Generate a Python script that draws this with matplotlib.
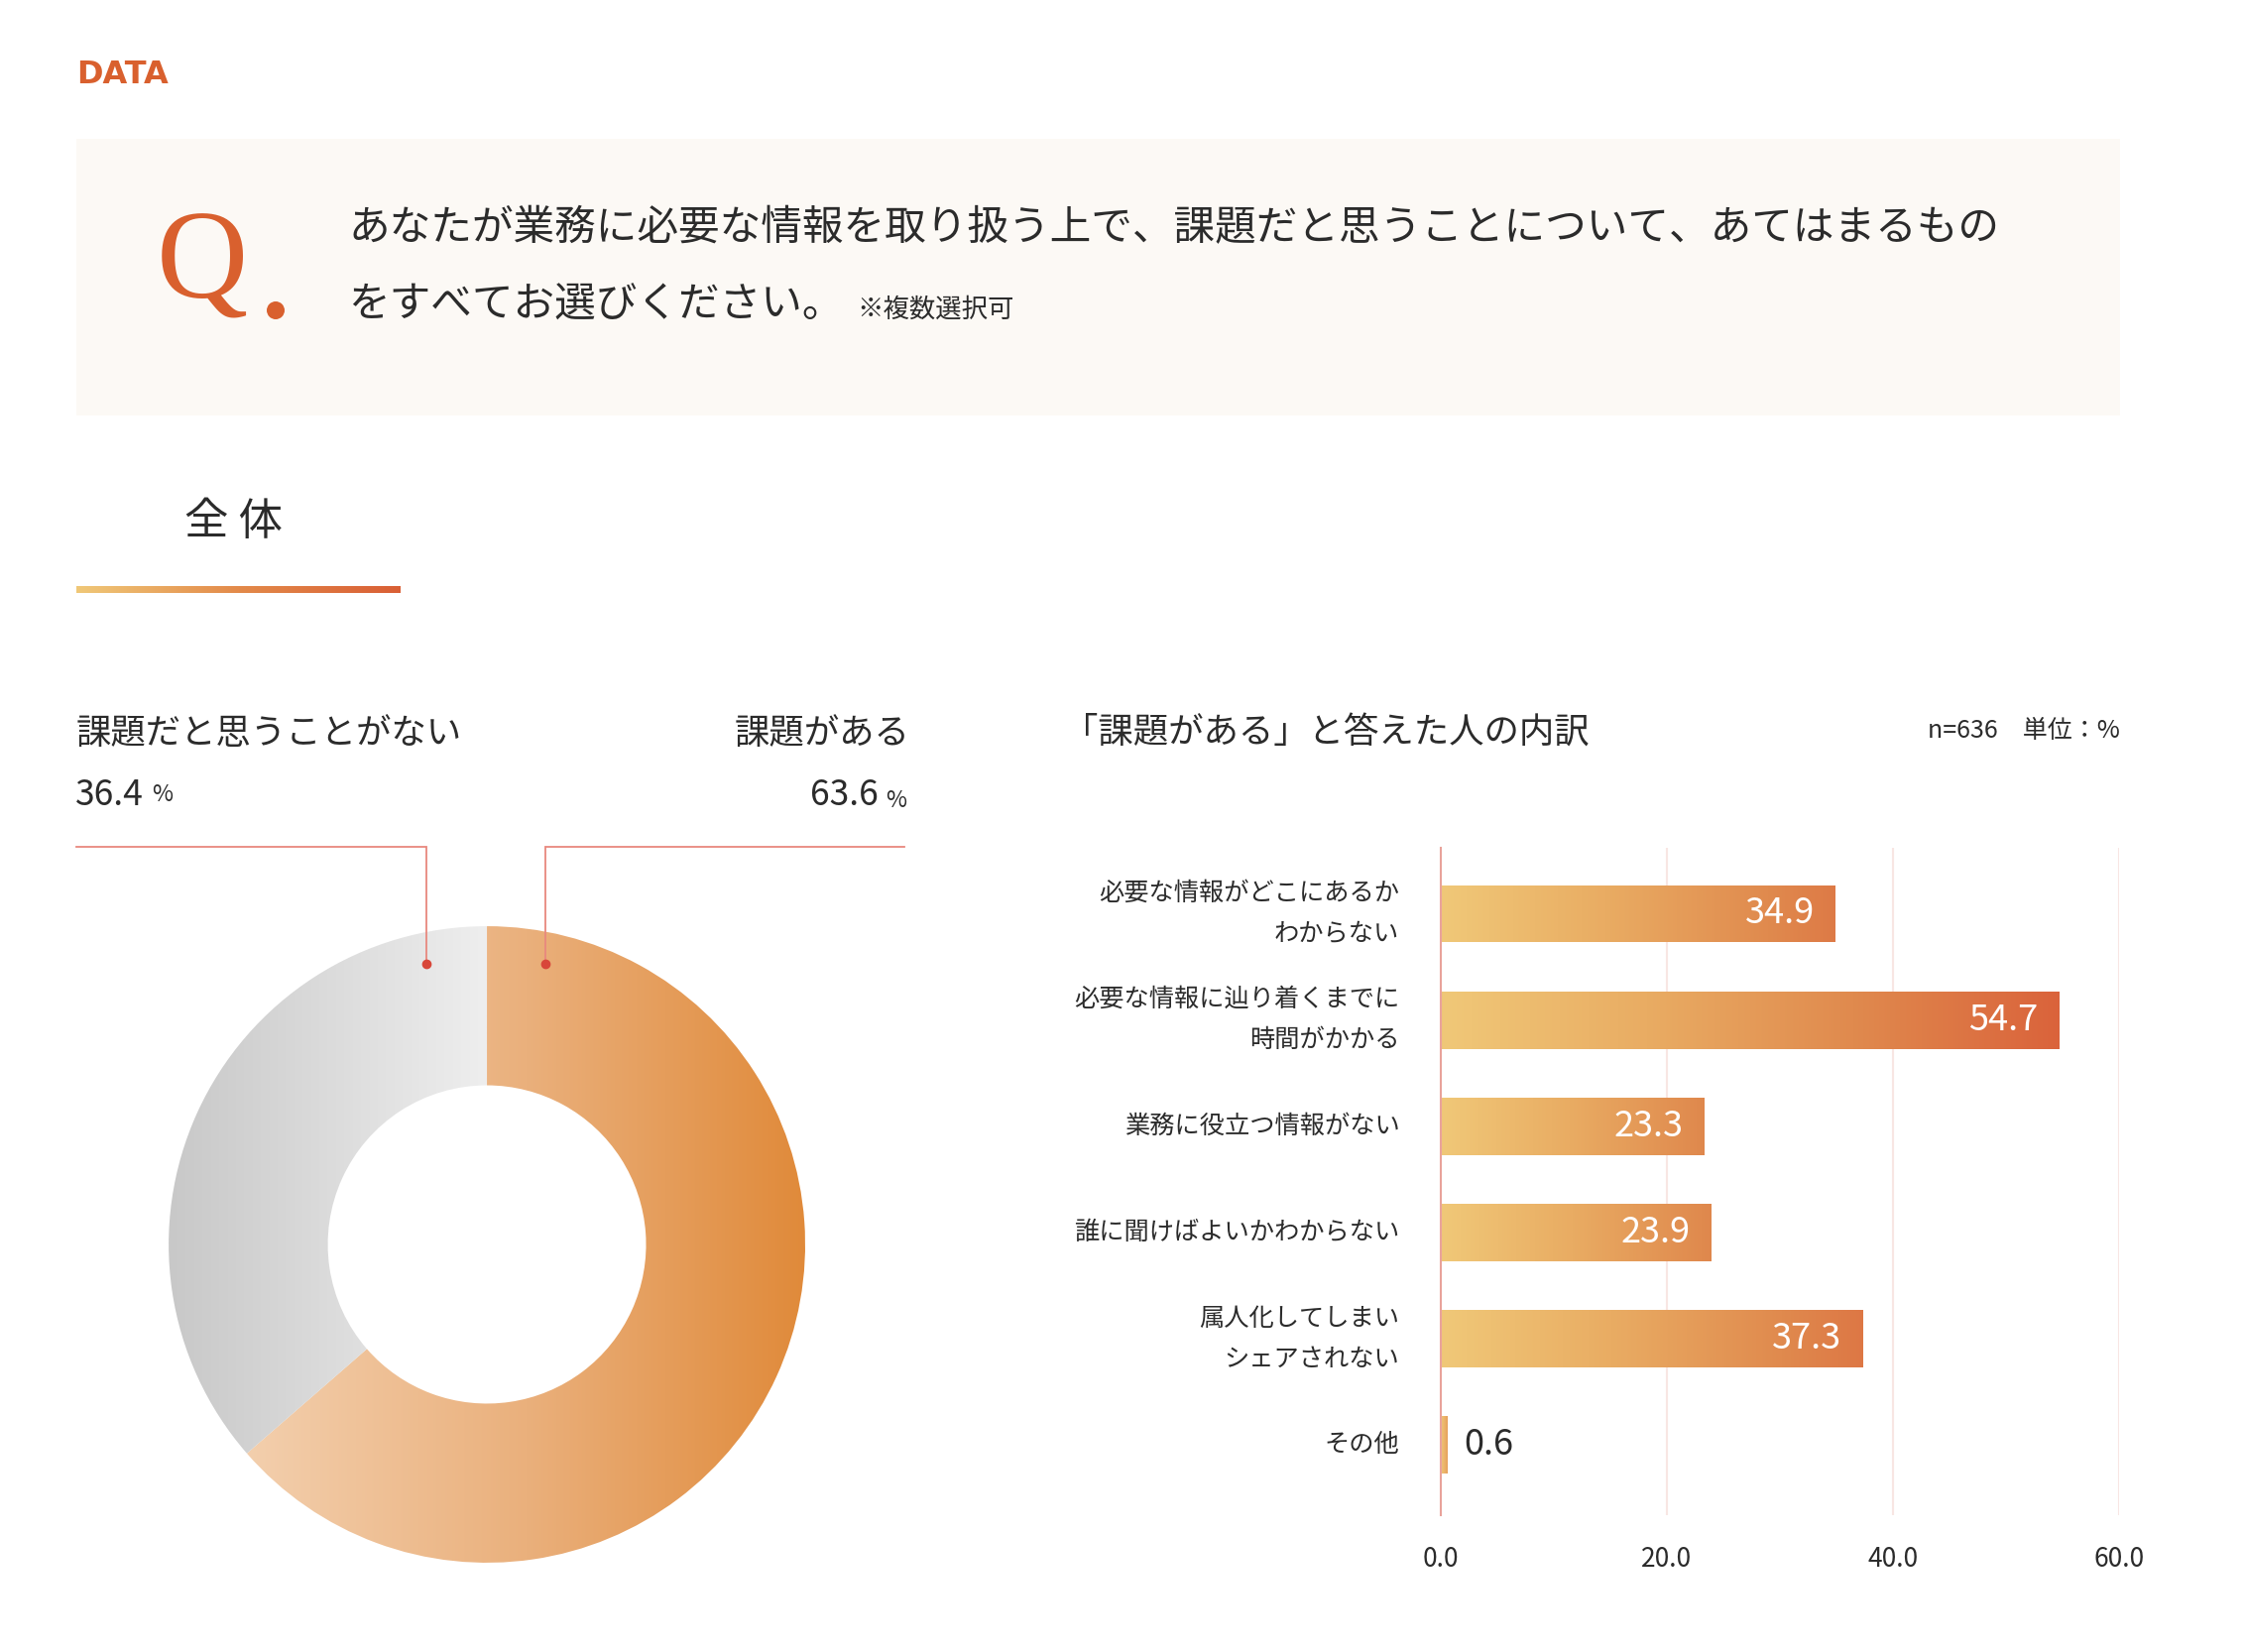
import numpy as np
import matplotlib
matplotlib.use('Agg')
import matplotlib.pyplot as plt
from matplotlib.colors import LinearSegmentedColormap
from matplotlib.patches import Rectangle, Circle

plt.rcParams['font.family'] = ['Noto Sans CJK JP', 'DejaVu Sans']

# ---------------- data ----------------
donut_labels = ['課題がある', '課題だと思うことがない']
donut_values = [63.6, 36.4]

categories = ['必要な情報がどこにあるか\nわからない',
              '必要な情報に辿り着くまでに\n時間がかかる',
              '業務に役立つ情報がない',
              '誰に聞けばよいかわからない',
              '属人化してしまい\nシェアされない',
              'その他']
values = [34.9, 54.7, 23.3, 23.9, 37.3, 0.6]
xticks = [0, 20, 40, 60]

question_line1 = 'あなたが業務に必要な情報を取り扱う上で、課題だと思うことについて、あてはまるもの'
question_line2 = 'をすべてお選びください。'
question_note = '※複数選択可'
section_title = '全 体'
bar_title = '「課題がある」と答えた人の内訳'
bar_note = 'n=636　単位：%'

# ---------------- style ----------------
W, H = 2265, 1666
TXT = '#2B2B2B'
ORANGE = '#D9602E'
LINE = '#E8887E'
DOT = '#D8473A'

fig = plt.figure(figsize=(W / 100, H / 100), dpi=100)
fig.patch.set_facecolor('white')

# overlay axes in pixel coordinates
ov = fig.add_axes([0, 0, 1, 1], zorder=5)
ov.set_xlim(0, W)
ov.set_ylim(H, 0)
ov.axis('off')
ov.patch.set_alpha(0)

ov.text(77, 75, 'DATA', color=ORANGE, fontsize=23, fontweight='bold',
        family=['DejaVu Sans'], va='center', ha='left')

ov.add_patch(Rectangle((77, 140), 2061, 279, facecolor='#FCF9F5', edgecolor='none', zorder=0))
ov.text(158, 270, 'Q', color=ORANGE, fontsize=92, family=['Liberation Serif'],
        va='center', ha='left')
ov.add_patch(Circle((278, 313), 9, facecolor=ORANGE, edgecolor='none'))

ov.text(351, 231, question_line1, color=TXT, fontsize=30, va='center', ha='left')
ov.text(351, 308, question_line2, color=TXT, fontsize=30, va='center', ha='left')
ov.text(864, 312, question_note, color=TXT, fontsize=19, va='center', ha='left')

ov.text(186, 526, section_title, color=TXT, fontsize=32, va='center', ha='left')
ul_cmap = LinearSegmentedColormap.from_list('ul', ['#F0C878', '#E38A4A', '#D95F35'])
ov.imshow(np.linspace(0, 1, 256).reshape(1, -1), cmap=ul_cmap, aspect='auto',
          extent=[77, 404, 598, 591], interpolation='bilinear')

# donut labels
ov.text(77, 740, donut_labels[1], color=TXT, fontsize=25.5, va='center', ha='left')
t1 = ov.text(76, 802, f'{donut_values[1]:.1f}', color=TXT, fontsize=25.5, va='center', ha='left')
ov.annotate('%', xy=(1, 0.2), xycoords=t1, xytext=(6, 0), textcoords='offset points',
            color=TXT, fontsize=16.5, va='bottom', ha='left')
ov.text(917, 740, donut_labels[0], color=TXT, fontsize=25.5, va='center', ha='right')
pct = ov.text(914, 807, '%', color=TXT, fontsize=16.5, va='center', ha='right')
ov.annotate(f'{donut_values[0]:.1f}', xy=(0, -0.05), xycoords=pct, xytext=(-5, 0),
            textcoords='offset points', color=TXT, fontsize=25.5, va='bottom', ha='right')

# leader lines
ov.plot([77, 430, 430], [854, 854, 972], color=LINE, lw=1.3, solid_joinstyle='miter')
ov.plot([912, 550, 550], [854, 854, 972], color=LINE, lw=1.3, solid_joinstyle='miter')
ov.plot([430, 550], [972, 972], 'o', color=DOT, ms=6, lw=0)

# bar chart titles
ov.text(1072, 740, bar_title, color=TXT, fontsize=25.5, va='center', ha='left')
ov.text(2138, 737, bar_note, color=TXT, fontsize=18, va='center', ha='right')

# ---------------- donut ----------------
axd = fig.add_axes([0.0751, 0.054, 0.2834, 0.3854])
wedges, _ = axd.pie(donut_values, startangle=90, counterclock=False, radius=1,
                    wedgeprops=dict(width=0.5, edgecolor='none'))
donut_cmaps = [LinearSegmentedColormap.from_list('o', ['#F3CFAD', '#EAB07C', '#E08A3A']),
               LinearSegmentedColormap.from_list('g', ['#C8C8C8', '#EEEEEE'])]
grad = np.linspace(0, 1, 256).reshape(1, -1)
for w, cm in zip(wedges, donut_cmaps):
    bb = w.get_path().get_extents()
    w.set_facecolor('none')
    im = axd.imshow(grad, cmap=cm, aspect='auto', interpolation='bilinear',
                    extent=[bb.x0, bb.x1, bb.y0, bb.y1], zorder=1)
    im.set_clip_path(w)
axd.set_xlim(-1, 1)
axd.set_ylim(-1, 1)
axd.set_aspect('equal')
axd.axis('off')

# ---------------- bars ----------------
axb = fig.add_axes([0.6415, 0.0828, 0.302, 0.404])
y = np.arange(len(values))
bars = axb.barh(y, values, height=0.54, color='none', edgecolor='none', zorder=3)
bar_cmap = LinearSegmentedColormap.from_list('b', ['#F0C878', '#E9AC63', '#E08A4E', '#DA633B'])
vmax = max(values)
for b, v in zip(bars, values):
    end = min(1.0, 0.45 + 0.55 * v / vmax)
    g = bar_cmap(np.linspace(0, end, 256)).reshape(1, 256, 4)
    im = axb.imshow(g, aspect='auto', interpolation='bilinear',
                    extent=[0, max(v, 0.01), b.get_y() + b.get_height(), b.get_y()], zorder=3)
    im.set_clip_path(b)
    if v > 5:
        axb.annotate(f'{v:.1f}', xy=(v, b.get_y() + b.get_height() / 2), xytext=(-15, 0),
                     textcoords='offset points', ha='right', va='center',
                     color='white', fontsize=26, zorder=4)
    else:
        axb.annotate(f'{v:.1f}', xy=(v, b.get_y() + b.get_height() / 2), xytext=(12, 0),
                     textcoords='offset points', ha='left', va='center',
                     color=TXT, fontsize=26, zorder=4)

axb.set_xlim(0, 60)
axb.set_ylim(5.66, -0.62)
axb.set_xticks(xticks)
axb.set_xticklabels([f'{t:.1f}' for t in xticks], fontsize=19, color=TXT)
axb.set_yticks(y)
axb.set_yticklabels(categories, fontsize=18.2, color=TXT, linespacing=1.75)
for lab in axb.get_yticklabels():
    lab.set_va('center')
axb.tick_params(axis='both', length=0)
axb.tick_params(axis='x', pad=22)
axb.tick_params(axis='y', pad=30)
axb.xaxis.grid(True, color='#F8E6E3', lw=1.5, zorder=0)
axb.set_axisbelow(True)
for s in ['top', 'right', 'bottom']:
    axb.spines[s].set_visible(False)
axb.spines['left'].set_color('#E9A39B')
axb.spines['left'].set_linewidth(1.5)
axb.spines['left'].set_zorder(5)

fig.savefig('out.png', dpi=100, facecolor='white')
